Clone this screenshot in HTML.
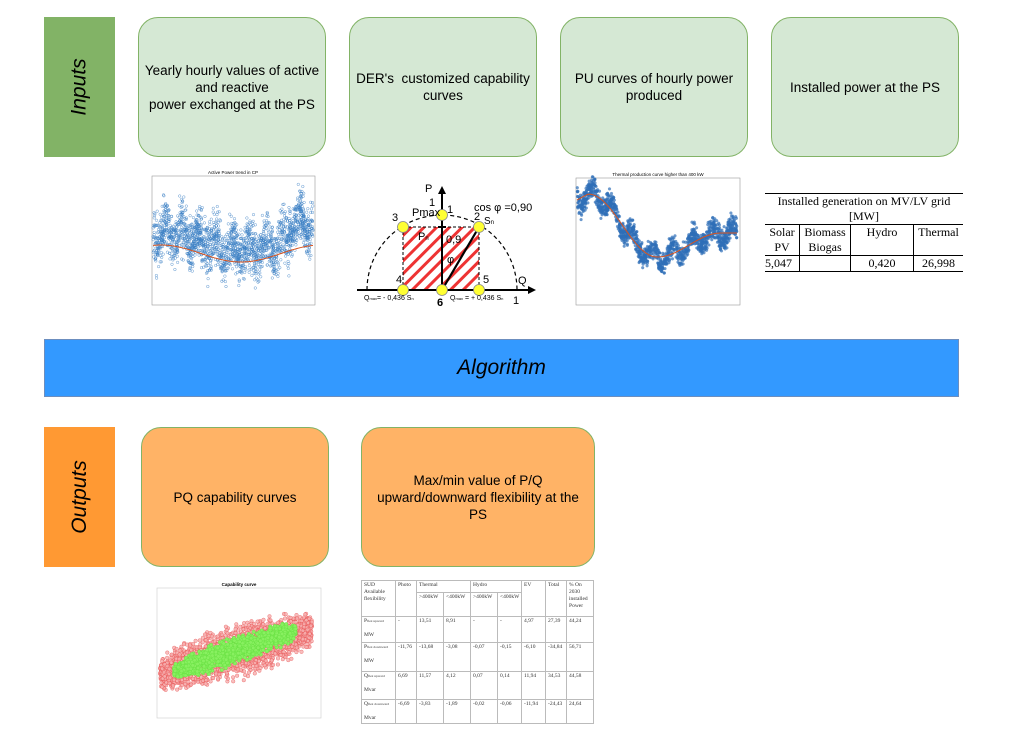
<!DOCTYPE html>
<html><head><meta charset="utf-8"><style>
body{margin:0;width:1023px;height:740px;background:#fff;position:relative;overflow:hidden;font-family:"Liberation Sans",sans-serif}
.a{position:absolute;box-sizing:border-box}
.side{display:flex;align-items:center;justify-content:center}
.side span{transform:rotate(-90deg);font-style:italic;font-size:21px;white-space:nowrap;color:#000}
.box{border-radius:20px;display:flex;align-items:center;justify-content:center;text-align:center;font-size:13.5px;line-height:17px;color:#000;padding:0 3px}
.g{background:#d5e8d4;border:1px solid #82b366}
.o{background:#ffb366;border:1px solid #82b366}
table{border-collapse:collapse;font-family:"Liberation Serif",serif}
.t1 td{border:1px solid #000;font-size:12px;text-align:center;vertical-align:top;padding:0;line-height:15px}
.t2{table-layout:fixed}
.t2 td{border:1px solid #bbb;font-size:5.5px;vertical-align:top;padding:1px 2px;line-height:7px;color:#333;overflow:hidden;white-space:nowrap}
.t2 sub{font-size:3.5px;vertical-align:baseline;line-height:0}
</style></head><body>
<div class="a side" style="left:44px;top:17px;width:71px;height:140px;background:#82b366"><span>Inputs</span></div>
<div class="a box g" style="left:138px;top:17px;width:188px;height:140px">Yearly hourly values of active<br>and reactive<br>power exchanged at the PS</div>
<div class="a box g" style="left:349px;top:17px;width:188px;height:140px">DER's&nbsp; customized capability<br>curves</div>
<div class="a box g" style="left:560px;top:17px;width:188px;height:140px">PU curves of hourly power<br>produced</div>
<div class="a box g" style="left:771px;top:17px;width:188px;height:140px">Installed power at the PS</div>

<div class="a" style="left:44px;top:339px;width:915px;height:58px;background:#3399ff;border:1px solid #6c8ebf;display:flex;align-items:center;justify-content:center;font-style:italic;font-size:21px">Algorithm</div>

<div class="a side" style="left:44px;top:427px;width:71px;height:140px;background:#ff9933"><span>Outputs</span></div>
<div class="a box o" style="left:141px;top:427px;width:188px;height:140px">PQ capability curves</div>
<div class="a box o" style="left:361px;top:427px;width:234px;height:140px">Max/min value of P/Q<br>upward/downward flexibility at the<br>PS</div>

<svg class="a" style="left:0;top:0" width="1023" height="740" id="sv">
<defs>
<pattern id="h" width="9" height="9" patternUnits="userSpaceOnUse" patternTransform="rotate(45)"><rect width="9" height="9" fill="#fff"/><rect width="3" height="9" fill="#e33"/></pattern>
</defs>
<rect x="152" y="176" width="163" height="129" fill="#fff" stroke="#999" stroke-width="0.6"/>
<text x="233" y="174" font-size="4.5" text-anchor="middle">Active Power trend in CP</text>
<rect x="576" y="178" width="164" height="127" fill="#fff" stroke="#999" stroke-width="0.6"/>
<text x="658" y="176" font-size="4.5" text-anchor="middle">Thermal production curve higher than 400 kW</text>
<rect x="157" y="588" width="164" height="130" fill="#fff" stroke="#ccc" stroke-width="0.6"/>
<text x="239" y="586" font-size="4.5" text-anchor="middle" font-weight="bold">Capability curve</text>
<g id="pts"></g>
<path id="c1" fill="none" stroke="#d9531e" stroke-width="1"/>
<path id="c2" fill="none" stroke="#d9531e" stroke-width="1"/>
<rect x="403" y="227" width="76" height="63" fill="url(#h)"/>
<path d="M367 290 A75 75 0 0 1 517 290" fill="none" stroke="#000" stroke-dasharray="4,3" stroke-width="1.2"/>
<path d="M403 227 H479 M403 227 V290 M479 227 V290" fill="none" stroke="#000" stroke-dasharray="3,2" stroke-width="1"/>
<line x1="357" y1="290" x2="532" y2="290" stroke="#000" stroke-width="2"/>
<polygon points="536,290 528,286 528,294"/>
<line x1="442" y1="290" x2="442" y2="190" stroke="#000" stroke-width="2"/>
<polygon points="442,186 438,194 446,194"/>
<line x1="442" y1="290" x2="479" y2="227" stroke="#000" stroke-width="2.2"/>
<line x1="438" y1="227" x2="446" y2="227" stroke="#000" stroke-width="2"/>
<g fill="#ffff33" stroke="#888" stroke-width="0.8">
<circle cx="442" cy="215" r="5.5"/><circle cx="479" cy="227" r="5.5"/><circle cx="403" cy="227" r="5.5"/>
<circle cx="403" cy="290" r="5.5"/><circle cx="442" cy="290" r="5.5"/><circle cx="479" cy="290" r="5.5"/></g>
<g font-size="11" font-family="Liberation Sans">
<text x="425" y="192">P</text><text x="429" y="206">1</text><text x="412" y="216">Pmax</text><text x="447" y="213">1</text>
<text x="474" y="220">2</text><text x="484" y="224" font-size="10">S<tspan font-size="6">n</tspan></text>
<text x="474" y="211">cos φ =0,90</text><text x="392" y="221">3</text>
<text x="418" y="240">P<tspan font-size="6">n</tspan></text><text x="446" y="243">0,9</text>
<text x="447" y="263">φ</text><text x="396" y="283">4</text><text x="483" y="283">5</text>
<text x="437" y="306" font-weight="bold">6</text><text x="518" y="284">Q</text><text x="513" y="304">1</text>
<text x="364" y="300" font-size="7">Q<tspan font-size="4">max</tspan>= - 0,436 S<tspan font-size="4">n</tspan></text>
<text x="450" y="300" font-size="7">Q<tspan font-size="4">max</tspan> = + 0,436 S<tspan font-size="4">n</tspan></text>
</g>
</svg>

<table class="a t1" style="left:765px;top:193px;width:198px">
<tr><td colspan="4" style="border-left:none;border-right:none;border-top:1px solid #000">Installed generation on MV/LV grid<br>[MW]</td></tr>
<tr style="height:30px"><td style="width:34px;border-left:none">Solar<br>PV</td><td style="width:50px">Biomass<br>Biogas</td><td style="width:62px">Hydro</td><td style="border-right:none">Thermal</td></tr>
<tr><td style="border-left:none;text-align:left">5,047</td><td></td><td>0,420</td><td style="border-right:none">26,998</td></tr>
</table>

<table class="a t2" style="left:361px;top:580px;width:233px;height:142px">
<colgroup><col style="width:34px"><col style="width:21px"><col style="width:27px"><col style="width:27px"><col style="width:27px"><col style="width:24px"><col style="width:24px"><col style="width:21px"><col></colgroup>
<tr style="height:12px"><td rowspan="2">SUD<br>Available<br>flexibility</td><td rowspan="2">Photo</td><td colspan="2">Thermal</td><td colspan="2">Hydro</td><td rowspan="2">EV</td><td rowspan="2">Total</td><td rowspan="2" style="white-space:normal">% On 2030 installed Power</td></tr>
<tr style="height:24px"><td>&gt;400kW</td><td>&lt;400kW</td><td>&gt;400kW</td><td>&lt;400kW</td></tr>
<tr style="height:26px"><td>P<sub>flex upward</sub><br><br>MW</td><td>-</td><td>13,51</td><td>8,91</td><td>-</td><td>-</td><td>4,97</td><td>27,39</td><td>44,24</td></tr>
<tr style="height:29px"><td>P<sub>flex downward</sub><br><br>MW</td><td>-11,76</td><td>-13,68</td><td>-3,08</td><td>-0,07</td><td>-0,15</td><td>-6,10</td><td>-34,84</td><td>56,71</td></tr>
<tr style="height:28px"><td>Q<sub>flex upward</sub><br><br>Mvar</td><td>6,69</td><td>11,57</td><td>4,12</td><td>0,07</td><td>0,14</td><td>11,94</td><td>34,53</td><td>44,58</td></tr>
<tr><td>Q<sub>flex downward</sub><br><br>Mvar</td><td>-6,69</td><td>-3,83</td><td>-1,89</td><td>-0,02</td><td>-0,06</td><td>-11,94</td><td>-24,43</td><td>24,64</td></tr>
</table>

<script>
var s=12345;function r(){s=(s*16807)%2147483647;return s/2147483647;}
function g(){return (r()+r()+r()-1.5)/1.5;}
var P=document.getElementById("pts"),h="";
function ap(x){return 253.5-8.5*Math.cos(2*Math.PI*(x-0.05));}
for(var i=0;i<2000;i++){var x=r();var px=153+x*160;var y=ap(x)-12+38*g()+10*Math.sin(x*60)-(x>0.85?12:0);
y=Math.max(180,Math.min(300,y));h+='<circle cx="'+px.toFixed(1)+'" cy="'+y.toFixed(1)+'" r="1.3" fill="none" stroke="#3b7fc4" stroke-width="0.5" opacity="0.8"/>';}
function tf(x){if(x<0.07)return 200-6*x/0.07;if(x<0.5)return 194+63*(1-Math.cos(Math.PI*(x-0.07)/0.43))/2;return 257-24*(1-Math.cos(Math.PI*Math.min(1,(x-0.5)/0.4)))/2;}
for(var i=0;i<1300;i++){var x=r();var px=577+x*160;var y=tf(x)+16*g()+8*Math.sin(x*50);h+='<circle cx="'+px.toFixed(1)+'" cy="'+y.toFixed(1)+'" r="1.4" fill="#2f6fb8" stroke="#2f6fb8" stroke-width="0.4" opacity="0.7"/>';}
for(var i=0;i<2400;i++){var t=r(),u=g();var w=Math.sqrt(Math.max(0,1-Math.pow(2*t-1,2)))*0.6+0.4;var px=160+t*152;var cy=674-t*44+u*34*w;h+='<circle cx="'+px.toFixed(1)+'" cy="'+cy.toFixed(1)+'" r="1.8" fill="#f7b0b0" stroke="#e85555" stroke-width="0.5" opacity="0.8"/>';}
for(var i=0;i<1500;i++){var t=r(),u=g();var w=Math.sqrt(Math.max(0,1-Math.pow(2*t-1,2)))*0.6+0.4;var px=174+t*122;var cy=671-t*40+u*17*w;h+='<circle cx="'+px.toFixed(1)+'" cy="'+cy.toFixed(1)+'" r="1.8" fill="#88f060" stroke="#66e040" stroke-width="0.4"/>';}
P.innerHTML=h;
var d="";for(var i=0;i<=60;i++){var x=i/60;d+=(i?"L":"M")+(153+x*160).toFixed(1)+" "+ap(x).toFixed(1);}
document.getElementById("c1").setAttribute("d",d);
d="";for(var i=0;i<=60;i++){var x=i/60;d+=(i?"L":"M")+(577+x*160).toFixed(1)+" "+tf(x).toFixed(1);}
document.getElementById("c2").setAttribute("d",d);
</script>
</body></html>
